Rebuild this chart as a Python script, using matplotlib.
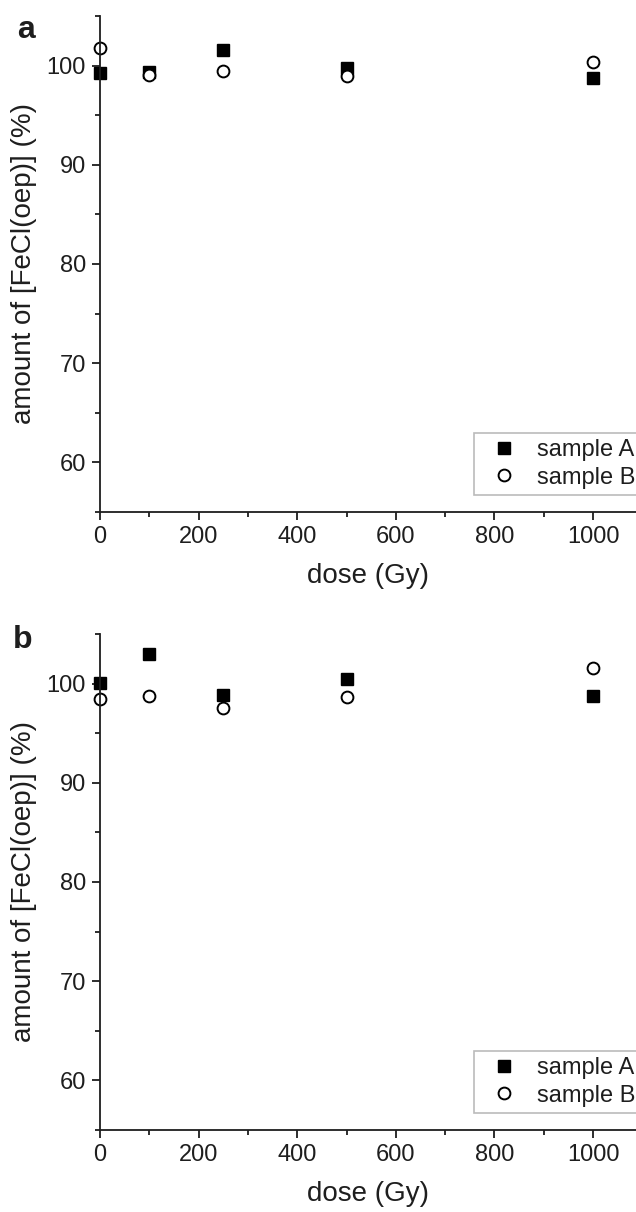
import matplotlib
matplotlib.use("Agg")
import matplotlib.pyplot as plt
from matplotlib.ticker import MultipleLocator

plt.rcParams['font.family'] = ['Liberation Sans', 'DejaVu Sans']

dose = [0, 100, 250, 500, 1000]

# panel a
a_sample_A = [99.3, 99.4, 101.6, 99.8, 98.8]
a_sample_B = [101.8, 99.1, 99.5, 99.0, 100.4]

# panel b
b_sample_A = [100.1, 103.0, 98.9, 100.5, 98.7]
b_sample_B = [98.4, 98.8, 97.5, 98.6, 101.6]

panels = [("a", a_sample_A, a_sample_B), ("b", b_sample_A, b_sample_B)]

W, H = 636, 1212
fig = plt.figure(figsize=(W / 100, H / 100), dpi=100)

# axes boxes in pixels: (top, bottom), and panel letter baseline (x, y)
boxes = [(16, 512), (634, 1130)]
letter_pos = [(17, 38), (13, 648)]
left_px = 100
ink = '#1e1e1e'

for (letter, ya, yb), (top, bot), (lx, ly) in zip(panels, boxes, letter_pos):
    ax = fig.add_axes([left_px / W, 1 - bot / H, 1 - left_px / W, (bot - top) / H])
    ax.plot(dose, ya, ls='none', marker='s', ms=8, color='black', label='sample A', clip_on=False)
    ax.plot(dose, yb, ls='none', marker='o', ms=8.5, mfc='white', mec='black', mew=1.4,
            label='sample B', clip_on=False)
    ax.set_xlim(0, 1087)
    ax.set_ylim(55, 105)
    ax.xaxis.set_major_locator(MultipleLocator(200))
    ax.xaxis.set_minor_locator(MultipleLocator(100))
    ax.yaxis.set_major_locator(MultipleLocator(10))
    ax.yaxis.set_minor_locator(MultipleLocator(5))
    for s in ['top', 'right']:
        ax.spines[s].set_visible(False)
    for s in ['left', 'bottom']:
        ax.spines[s].set_linewidth(1.3)
        ax.spines[s].set_color(ink)
    ax.tick_params(which='major', direction='out', length=6, width=1.3, labelsize=17,
                   colors=ink, pad=4)
    ax.tick_params(which='minor', direction='out', length=3.5, width=1.3, colors=ink)
    ax.set_xlabel('dose (Gy)', fontsize=20, labelpad=11, color=ink)
    ax.set_ylabel('amount of [FeCl(oep)] (%)', fontsize=20, labelpad=7, color=ink)
    leg = ax.legend(loc='upper left', bbox_to_anchor=(474 / W, 1 - (top + 417) / H),
                    bbox_transform=fig.transFigure, fontsize=17, frameon=True,
                    fancybox=False, edgecolor='#aaaaaa', borderaxespad=0,
                    handletextpad=0.4, markerscale=1.0, labelspacing=0.23,
                    borderpad=0.26, handlelength=2.0)
    leg.get_frame().set_linewidth(1.2)
    for t in leg.get_texts():
        t.set_color(ink)
    fig.text(lx / W, 1 - ly / H, letter, fontsize=23, fontweight='bold',
             va='baseline', ha='left', color=ink)

fig.savefig('out.png', dpi=100)
